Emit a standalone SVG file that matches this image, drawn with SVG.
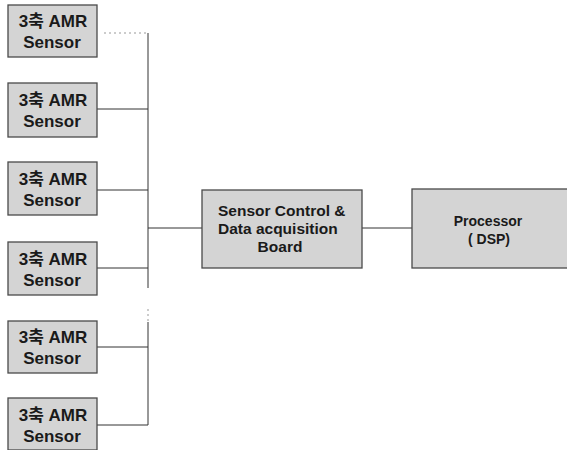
<svg xmlns="http://www.w3.org/2000/svg" width="567" height="450" viewBox="0 0 567 450">
<style>
.box{fill:#d4d4d4;stroke:#4a4a4a;stroke-width:1.3}
.t{font-family:"Liberation Sans","Noto Sans CJK KR",Arial,sans-serif;font-size:17px;font-weight:bold;fill:#1a1a1a;text-anchor:middle}
.tb{font-family:"Liberation Sans",Arial,sans-serif;font-size:15.5px;font-weight:bold;fill:#1a1a1a}
.tp{font-family:"Liberation Sans",Arial,sans-serif;font-size:14px;font-weight:bold;fill:#1a1a1a;text-anchor:middle}
.c{stroke:#333;stroke-width:1;fill:none}
.d{stroke:#999;stroke-width:1;fill:none;stroke-dasharray:2 3}
</style>
<rect width="567" height="450" fill="#fff"/>
<g id="connectors">
<path class="d" d="M104 33H148"/>
<path class="c" d="M148 33V288"/>
<path class="d" d="M148 309V322"/>
<path class="c" d="M148 322V425"/>
<path class="c" d="M97 109H148M97 190H148M97 268H148M97 347H148M97 425H148"/>
<path class="c" d="M148 228H203M362 228H412"/>
</g>
<g id="s1"><rect class="box" x="8" y="5" width="89" height="52"/><text class="t" x="53" y="27">3축 AMR</text><text class="t" x="52" y="48">Sensor</text></g>
<g id="s2"><rect class="box" x="8" y="83" width="89" height="54"/><text class="t" x="53" y="106">3축 AMR</text><text class="t" x="52" y="127">Sensor</text></g>
<g id="s3"><rect class="box" x="8" y="162" width="89" height="53"/><text class="t" x="53" y="185">3축 AMR</text><text class="t" x="52" y="206">Sensor</text></g>
<g id="s4"><rect class="box" x="8" y="242" width="89" height="53"/><text class="t" x="53" y="265">3축 AMR</text><text class="t" x="52" y="286">Sensor</text></g>
<g id="s5"><rect class="box" x="8" y="321" width="89" height="52"/><text class="t" x="53" y="343">3축 AMR</text><text class="t" x="52" y="364">Sensor</text></g>
<g id="s6"><rect class="box" x="8" y="398" width="89" height="52"/><text class="t" x="53" y="421">3축 AMR</text><text class="t" x="52" y="442">Sensor</text></g>
<g id="board"><rect class="box" x="202" y="190" width="160" height="78"/><text class="tb" x="218" y="216">Sensor Control &amp;</text><text class="tb" x="218" y="234">Data acquisition</text><text class="tb" x="280" y="252" text-anchor="middle">Board</text></g>
<g id="processor"><rect class="box" x="412" y="189" width="160" height="79"/><text class="tp" x="488" y="226">Processor</text><text class="tp" x="489" y="244">( DSP)</text></g>
</svg>
